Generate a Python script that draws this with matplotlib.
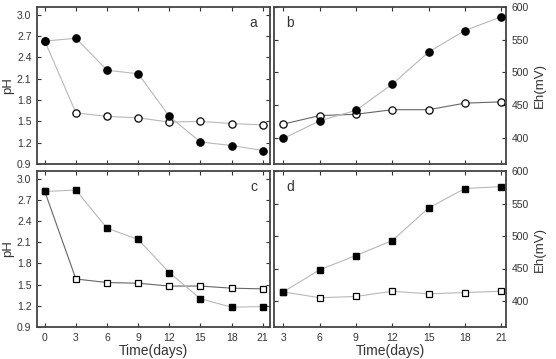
import matplotlib.pyplot as plt

plt.rcParams['font.family'] = ['Liberation Sans', 'DejaVu Sans']

days_a = [0, 3, 6, 9, 12, 15, 18, 21]
days_b = [3, 6, 9, 12, 15, 18, 21]

ph_a_filled = [2.63, 2.67, 2.22, 2.17, 1.57, 1.21, 1.16, 1.09]
ph_a_open = [2.63, 1.62, 1.57, 1.55, 1.49, 1.50, 1.47, 1.45]
eh_b_filled = [399, 426, 442, 482, 531, 564, 585]
eh_b_open = [421, 434, 436, 443, 443, 453, 455]
ph_c_filled = [2.82, 2.84, 2.30, 2.14, 1.67, 1.30, 1.18, 1.19]
ph_c_open = [2.82, 1.58, 1.53, 1.52, 1.48, 1.48, 1.45, 1.44]
eh_d_filled = [414, 448, 470, 493, 543, 573, 576]
eh_d_open = [414, 405, 407, 415, 411, 413, 415]

ph_ticks = [0.9, 1.2, 1.5, 1.8, 2.1, 2.4, 2.7, 3.0]
eh_ticks = [400, 450, 500, 550, 600]

txt = '#333333'
spine = '#444444'
light = '#b8b8b8'
dark = '#666666'

fig = plt.figure(figsize=(5.56, 3.59), dpi=100)
W, H = 556, 359


def box(l, t, r, b):
    return [l / W, 1 - b / H, (r - l) / W, (b - t) / H]


ax_a = fig.add_axes(box(37, 7, 270, 164))
ax_b = fig.add_axes(box(274, 7, 506, 164))
ax_c = fig.add_axes(box(37, 171, 270, 327))
ax_d = fig.add_axes(box(274, 171, 506, 327))

# pH panels
for ax, xs, f, o, mk, lc_open, lab, bottom in [
        (ax_a, days_a, ph_a_filled, ph_a_open, 'o', light, 'a', False),
        (ax_c, days_a, ph_c_filled, ph_c_open, 's', dark, 'c', True)]:
    ms = 5.2 if mk == 'o' else 4.6
    ax.plot(xs, f, color=light, lw=0.8, marker=mk, ms=ms, mfc='black', mec='black', zorder=3)
    ax.plot(xs, o, color=lc_open, lw=0.8, marker=mk, ms=ms, mfc='white', mec='black', mew=0.9, zorder=2)
    ax.set_xlim(-0.75, 21.7)
    ax.set_ylim(0.9, 3.11)
    ax.set_yticks(ph_ticks)
    ax.set_yticklabels(['%.1f' % v for v in ph_ticks])
    ax.set_xticks(days_a)
    ax.set_ylabel('pH', fontsize=9.5, color=txt, labelpad=2)
    ax.text(0.93, 0.9, lab, transform=ax.transAxes, fontsize=10, color=txt, ha='center', va='center')
    if not bottom:
        ax.set_xticklabels([])

# Eh panels
for ax, f, o, mk, lab, bottom in [
        (ax_b, eh_b_filled, eh_b_open, 'o', 'b', False),
        (ax_d, eh_d_filled, eh_d_open, 's', 'd', True)]:
    ms = 5.2 if mk == 'o' else 4.6
    ax.plot(days_b, f, color=light, lw=0.8, marker=mk, ms=ms, mfc='black', mec='black', zorder=3)
    ax.plot(days_b, o, color=dark if lab == 'b' else light, lw=0.8, marker=mk, ms=ms,
            mfc='white', mec='black', mew=0.9, zorder=2)
    ax.set_xlim(2.23, 21.4)
    ax.set_ylim(360, 600)
    ax.set_xticks(days_b)
    ax.set_yticks(eh_ticks)
    ax.yaxis.tick_right()
    ax.yaxis.set_label_position('right')
    ax.set_ylabel('Eh(mV)', fontsize=9.5, color=txt, labelpad=4)
    ax.text(0.07, 0.9, lab, transform=ax.transAxes, fontsize=10, color=txt, ha='center', va='center')
    if not bottom:
        ax.set_xticklabels([])

for ax in (ax_a, ax_b, ax_c, ax_d):
    ax.tick_params(direction='in', length=3, width=0.8, top=True, right=True, left=True, bottom=True,
                   labelsize=7.5, colors=txt, pad=4)
    for s in ax.spines.values():
        s.set_color(spine)
        s.set_linewidth(1.3)

ax_c.set_xlabel('Time(days)', fontsize=10, color=txt, labelpad=1)
ax_d.set_xlabel('Time(days)', fontsize=10, color=txt, labelpad=1)

fig.savefig('out.png', dpi=100)
